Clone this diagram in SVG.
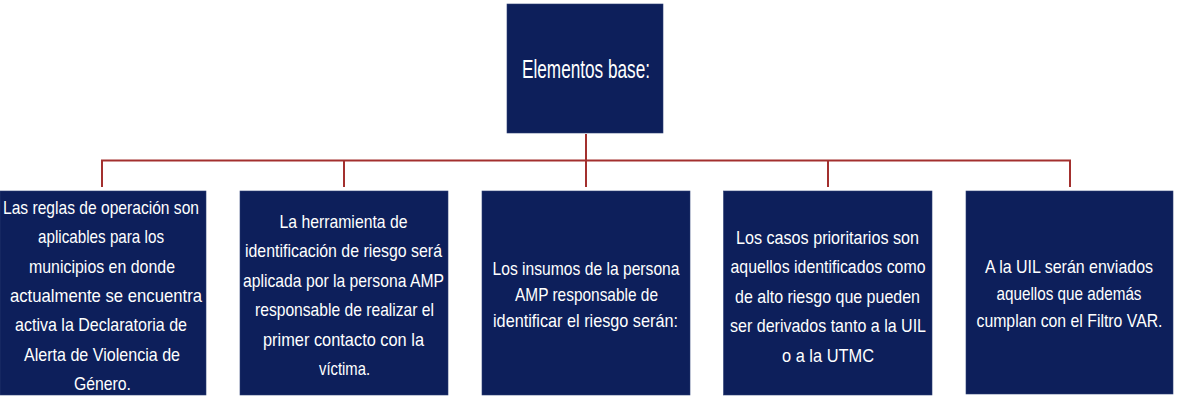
<svg xmlns="http://www.w3.org/2000/svg" width="1177" height="397" viewBox="0 0 1177 397">
<style>
.box{fill:#0D1F5B;stroke:#2A3C74;stroke-width:0.6}
.t{fill:#FFFFFF;font-family:"Liberation Sans",Arial,sans-serif;font-size:19px;text-anchor:middle}
.h{fill:#FFFFFF;font-family:"Liberation Sans",Arial,sans-serif;font-size:25px;text-anchor:middle}
.c{stroke:#A3302E;stroke-width:2;fill:none}
</style>
<rect width="1177" height="397" fill="#FFFFFF"/>
<g id="connectors">
<line class="c" x1="586" y1="134" x2="586" y2="187"/>
<line class="c" x1="101" y1="160.5" x2="1071" y2="160.5"/>
<line class="c" x1="102" y1="160" x2="102" y2="187"/>
<line class="c" x1="344" y1="160" x2="344" y2="187"/>
<line class="c" x1="828" y1="160" x2="828" y2="187"/>
<line class="c" x1="1070" y1="160" x2="1070" y2="187"/>
</g>
<g id="root">
<rect class="box" x="507" y="4" width="156" height="129"/>
<text class="h" x="586" y="78" textLength="128" lengthAdjust="spacingAndGlyphs">Elementos base:</text>
</g>
<g id="node1">
<rect class="box" x="0" y="191" width="206" height="204"/>
<text class="t" x="101" y="214" textLength="196" lengthAdjust="spacingAndGlyphs">Las reglas de operación son</text>
<text class="t" x="101" y="243.3" textLength="126" lengthAdjust="spacingAndGlyphs">aplicables para los</text>
<text class="t" x="102" y="272.7" textLength="146" lengthAdjust="spacingAndGlyphs">municipios en donde</text>
<text class="t" x="106" y="302" textLength="192" lengthAdjust="spacingAndGlyphs">actualmente se encuentra</text>
<text class="t" x="101" y="331.3" textLength="172" lengthAdjust="spacingAndGlyphs">activa la Declaratoria de</text>
<text class="t" x="102" y="360.7" textLength="156" lengthAdjust="spacingAndGlyphs">Alerta de Violencia de</text>
<text class="t" x="102.5" y="390" textLength="57" lengthAdjust="spacingAndGlyphs">Género.</text>
</g>
<g id="node2">
<rect class="box" x="240" y="191" width="208" height="204"/>
<text class="t" x="343.5" y="227.5" textLength="128" lengthAdjust="spacingAndGlyphs">La herramienta de</text>
<text class="t" x="343.5" y="257" textLength="197" lengthAdjust="spacingAndGlyphs">identificación de riesgo será</text>
<text class="t" x="343.5" y="286.5" textLength="201" lengthAdjust="spacingAndGlyphs">aplicada por la persona AMP</text>
<text class="t" x="344.5" y="316" textLength="179" lengthAdjust="spacingAndGlyphs">responsable de realizar  el</text>
<text class="t" x="343.5" y="345.5" textLength="161" lengthAdjust="spacingAndGlyphs">primer  contacto con la</text>
<text class="t" x="344.5" y="375" textLength="51" lengthAdjust="spacingAndGlyphs">víctima.</text>
</g>
<g id="node3">
<rect class="box" x="482" y="191" width="208" height="204"/>
<text class="t" x="586" y="275" textLength="187" lengthAdjust="spacingAndGlyphs">Los insumos de la persona</text>
<text class="t" x="586.5" y="301" textLength="143" lengthAdjust="spacingAndGlyphs">AMP responsable de</text>
<text class="t" x="585.5" y="327" textLength="185" lengthAdjust="spacingAndGlyphs">identificar el riesgo serán:</text>
</g>
<g id="node4">
<rect class="box" x="723.5" y="191" width="208.5" height="204"/>
<text class="t" x="827.5" y="243.5" textLength="183" lengthAdjust="spacingAndGlyphs">Los casos prioritarios son</text>
<text class="t" x="828" y="273" textLength="195" lengthAdjust="spacingAndGlyphs">aquellos identificados como</text>
<text class="t" x="827.5" y="302.5" textLength="185" lengthAdjust="spacingAndGlyphs">de alto riesgo que pueden</text>
<text class="t" x="828" y="332" textLength="196" lengthAdjust="spacingAndGlyphs">ser derivados tanto a la UIL</text>
<text class="t" x="828" y="361.5" textLength="92" lengthAdjust="spacingAndGlyphs">o a la UTMC</text>
</g>
<g id="node5">
<rect class="box" x="966" y="191" width="207" height="203"/>
<text class="t" x="1069" y="273" textLength="168" lengthAdjust="spacingAndGlyphs">A la UIL serán enviados</text>
<text class="t" x="1069" y="300" textLength="145" lengthAdjust="spacingAndGlyphs">aquellos que además</text>
<text class="t" x="1069.5" y="327" textLength="186" lengthAdjust="spacingAndGlyphs">cumplan con el Filtro VAR.</text>
</g>
</svg>
